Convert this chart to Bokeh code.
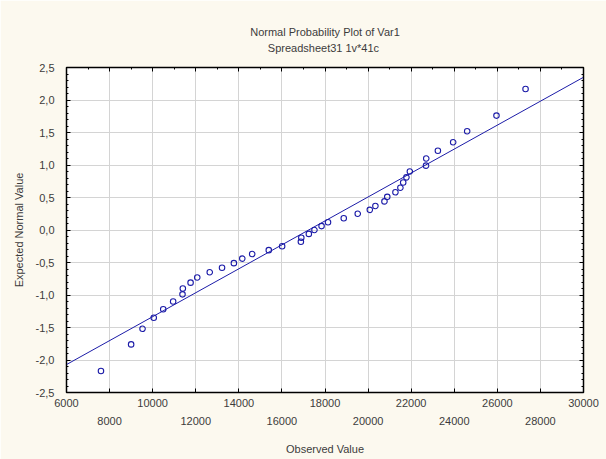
from bokeh.plotting import figure
from bokeh.models import LinearAxis, FixedTicker, Range1d, Grid, Title, ColumnDataSource
from bokeh.embed import file_html
from bokeh.resources import INLINE

# ---- text ----
title_text = "Normal Probability Plot of Var1"
subtitle_text = "Spreadsheet31  1v*41c"
x_label = "Observed Value"
y_label = "Expected Normal Value"

# ---- data ----
observed = [7600, 9000, 9530, 10050, 10490, 10950, 11385, 11400, 11760, 12070,
            12650, 13220, 13770, 14160, 14620, 15390, 16010, 16880, 16900, 17250,
            17510, 17840, 18140, 18870, 19520, 20080, 20340, 20760, 20890, 21270,
            21500, 21630, 21780, 21940, 22690, 22700, 23240, 23950, 24600, 25960,
            27310]
expected = [-2.17, -1.76, -1.52, -1.35, -1.22, -1.10, -0.99, -0.90, -0.81, -0.73,
            -0.65, -0.58, -0.51, -0.44, -0.37, -0.31, -0.25, -0.18, -0.12, -0.06,
            0.00, 0.06, 0.12, 0.18, 0.25, 0.31, 0.37, 0.44, 0.51, 0.58,
            0.65, 0.73, 0.81, 0.90, 0.99, 1.10, 1.22, 1.35, 1.52, 1.76,
            2.17]

# fitted line end points
fit_x = [6000, 30000]
fit_y = [-2.07, 2.35]

# ---- ticks ----
x_ticks = [6000, 8000, 10000, 12000, 14000, 16000, 18000, 20000, 22000, 24000, 26000, 28000, 30000]
x_minor = [7000, 9000, 11000, 13000, 15000, 17000, 19000, 21000, 23000, 25000, 27000, 29000]
x_row1 = [6000, 10000, 14000, 18000, 22000, 26000, 30000]
x_row2 = [8000, 12000, 16000, 20000, 24000, 28000]
y_ticks = [-2.5, -2.0, -1.5, -1.0, -0.5, 0.0, 0.5, 1.0, 1.5, 2.0, 2.5]
y_tick_labels = ["-2,5", "-2,0", "-1,5", "-1,0", "-0,5", "0,0", "0,5", "1,0", "1,5", "2,0", "2,5"]
y_minor = [-2.4, -2.3, -2.2, -2.1, -1.9, -1.8, -1.7, -1.6, -1.4, -1.3, -1.2, -1.1,
           -0.9, -0.8, -0.7, -0.6, -0.4, -0.3, -0.2, -0.1, 0.1, 0.2, 0.3, 0.4,
           0.6, 0.7, 0.8, 0.9, 1.1, 1.2, 1.3, 1.4, 1.6, 1.7, 1.8, 1.9, 2.1, 2.2, 2.3, 2.4]

FONT = "Liberation Sans"
TXT = "#3c3c3c"
BLUE = "#1c1ca8"
BG = "#fcf9ef"

p = figure(frame_width=517, frame_height=325,
           x_range=Range1d(6000, 30000), y_range=Range1d(-2.5, 2.5),
           x_axis_type=None, y_axis_type=None,
           output_backend="svg", toolbar_location=None,
           min_border_left=66, min_border_right=23, min_border_top=67, min_border_bottom=67,
           background_fill_color="white", border_fill_color=BG,
           outline_line_color="black", outline_line_width=1.5)
p.title.visible = False


def style_axis(ax):
    ax.axis_line_color = "black"
    ax.axis_line_width = 1
    ax.major_tick_in = 4
    ax.major_tick_out = 0
    ax.minor_tick_in = 2
    ax.minor_tick_out = 0
    ax.major_tick_line_color = "black"
    ax.minor_tick_line_color = "black"
    ax.major_label_text_font = FONT
    ax.major_label_text_font_size = "11px"
    ax.major_label_text_color = TXT
    ax.axis_label_text_font = FONT
    ax.axis_label_text_font_size = "11px"
    ax.axis_label_text_font_style = "normal"
    ax.axis_label_text_color = TXT


def tick_only_axis(ticks, length, place):
    ax = LinearAxis(ticker=FixedTicker(ticks=[], minor_ticks=ticks))
    style_axis(ax)
    ax.minor_tick_in = length
    ax.major_label_standoff = 0
    p.add_layout(ax, place)


# bottom axis, first row of labels (ticks every 2000)
xa1 = LinearAxis(ticker=FixedTicker(ticks=x_row1, minor_ticks=x_row2))
style_axis(xa1)
xa1.minor_tick_in = 4
xa1.major_label_standoff = 6
p.add_layout(xa1, "below")

# bottom axis, second row of labels
xa2 = LinearAxis(ticker=FixedTicker(ticks=x_row2, minor_ticks=[]), axis_label=x_label)
style_axis(xa2)
xa2.axis_line_color = None
xa2.major_tick_line_color = None
xa2.minor_tick_line_color = None
xa2.major_label_standoff = 7
xa2.axis_label_standoff = 15
p.add_layout(xa2, "below")

# left axis
ya = LinearAxis(ticker=FixedTicker(ticks=y_ticks, minor_ticks=y_minor), axis_label=y_label)
style_axis(ya)
ya.major_label_overrides = dict(zip(y_ticks, y_tick_labels))
ya.major_label_standoff = 12
ya.axis_label_standoff = 8
p.add_layout(ya, "left")

# top and right: ticks only
tick_only_axis(x_ticks, 4, "above")
tick_only_axis(x_minor, 2, "above")
tick_only_axis(y_ticks, 4, "right")
tick_only_axis(y_minor, 2, "right")

# grids
p.add_layout(Grid(dimension=0, ticker=FixedTicker(ticks=x_ticks), grid_line_color="#d4d4d4", grid_line_width=1))
p.add_layout(Grid(dimension=1, ticker=FixedTicker(ticks=y_ticks), grid_line_color="#d4d4d4", grid_line_width=1))

# two-line title
title = Title(text=title_text + "\n" + subtitle_text, align="center", text_align="center",
              text_font=FONT, text_font_size="11px", text_font_style="normal", text_color=TXT,
              text_line_height=1.38, standoff=26)
p.add_layout(title, "above")

# data
src = ColumnDataSource(dict(x=observed, y=expected))
p.line(fit_x, fit_y, line_color=BLUE, line_width=1)
p.scatter("x", "y", source=src, marker="circle", size=5.5, fill_color=None,
          line_color=BLUE, line_width=1.1)

open("out.html", "w").write(file_html(p, INLINE))
